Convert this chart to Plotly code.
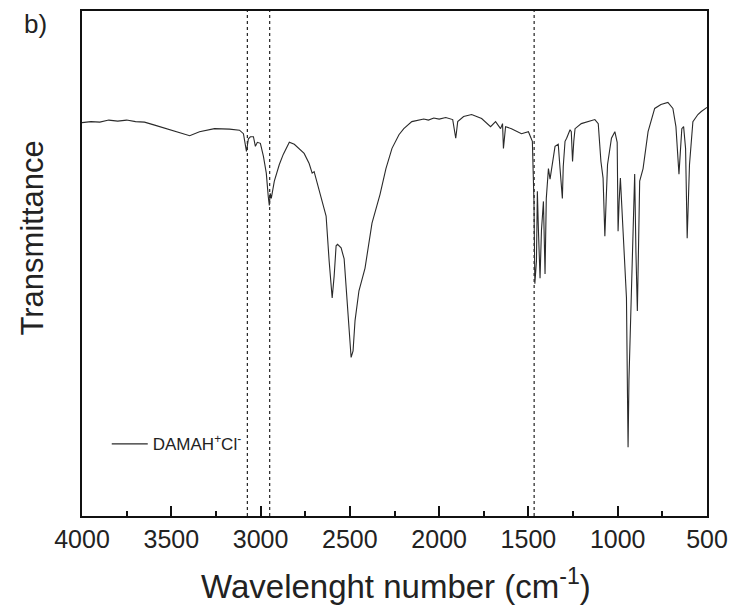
import plotly.graph_objects as go

# IR spectrum of DAMAH+Cl-
wavenumber = [4000, 3950, 3900, 3850, 3800, 3750, 3700, 3650, 3593, 3509, 3453, 3397, 3342, 3258,
               3174, 3118, 3096, 3079, 3068, 3057, 3040, 3029, 3018, 3001, 2984, 2968, 2957, 2951,
               2946, 2940, 2923, 2895, 2873, 2839, 2811, 2756, 2728, 2711, 2700, 2689, 2672, 2650,
               2633, 2616, 2599, 2588, 2577, 2569, 2549, 2532, 2516, 2504, 2493, 2482, 2471, 2449,
               2415, 2376, 2365, 2331, 2298, 2264, 2225, 2198, 2153, 2120, 2086, 2060, 2030, 2000,
               1963, 1924, 1907, 1896, 1863, 1818, 1762, 1712, 1684, 1656, 1645, 1640, 1628, 1595,
               1539, 1500, 1478, 1469, 1464, 1455, 1450, 1444, 1435, 1427, 1416, 1407, 1400, 1388,
               1379, 1351, 1333, 1323, 1310, 1305, 1295, 1286, 1267, 1260, 1253, 1246, 1239, 1204,
               1128, 1109, 1094, 1082, 1072, 1065, 1057, 1035, 1016, 1003, 998, 992, 985, 970,
               951, 945, 942, 937, 929, 924, 914, 905, 898, 890, 884, 877, 858, 830,
               793, 758, 719, 691, 674, 667, 657, 649, 641, 631, 620, 611, 604, 598,
               579, 551, 532, 500]

transmittance = [77.9, 78.1, 78.0, 78.4, 78.2, 78.4, 78.1, 78.0, 77.4, 76.5, 75.9, 75.3, 76.1, 76.7,
                 76.6, 76.4, 75.7, 72.2, 74.7, 75.1, 75.1, 73.2, 74.0, 73.8, 71.2, 67.9, 63.3, 61.5,
                 63.9, 62.9, 66.3, 69.6, 71.6, 74.0, 73.6, 71.8, 69.8, 67.9, 68.2, 66.7, 64.3, 61.3,
                 59.4, 50.5, 43.2, 47.5, 53.5, 53.8, 53.1, 50.9, 42.6, 35.7, 31.4, 32.7, 38.7, 44.6,
                 49.1, 58.0, 59.4, 63.7, 68.8, 72.8, 75.5, 76.7, 78.1, 78.3, 78.6, 78.4, 78.8, 78.6,
                 78.9, 78.5, 74.8, 78.1, 79.1, 79.5, 78.7, 77.1, 78.1, 76.7, 77.7, 72.8, 77.1, 76.7,
                 75.7, 76.1, 74.2, 62.3, 46.0, 50.5, 64.3, 56.6, 47.1, 56.6, 62.3, 47.9, 62.9, 68.8,
                 66.7, 73.2, 73.6, 68.8, 62.9, 69.2, 74.2, 74.8, 76.5, 76.1, 70.2, 74.2, 76.7, 77.7,
                 78.5, 77.7, 70.2, 66.9, 55.4, 62.3, 69.6, 74.8, 76.1, 74.0, 56.4, 62.3, 66.9, 56.4,
                 43.2, 22.9, 13.6, 27.0, 37.3, 46.5, 56.4, 67.7, 52.3, 40.6, 52.3, 66.3, 68.8, 76.1,
                 80.7, 81.5, 81.9, 80.7, 77.1, 72.8, 67.7, 72.2, 76.7, 77.1, 72.8, 55.0, 62.3, 69.6,
                 78.1, 79.5, 80.1, 80.9]

reference_lines = [3074, 2949, 1468]
x_ticks = [4000, 3500, 3000, 2500, 2000, 1500, 1000, 500]
series_name = "DAMAH<sup>+</sup>Cl<sup>-</sup>"

FONT = "Liberation Sans, Arial, sans-serif"

fig = go.Figure()
fig.add_trace(go.Scatter(
    x=wavenumber, y=transmittance, mode="lines", name=series_name,
    line=dict(color="#2a2a2a", width=1.1), showlegend=True,
))

for wn in reference_lines:
    fig.add_shape(type="line", xref="x", yref="paper", x0=wn, x1=wn, y0=0, y1=1,
                  line=dict(color="#222", width=1.2, dash="dot"), layer="below")

fig.update_layout(
    width=737, height=610,
    margin=dict(l=82, r=27, t=9, b=94),
    paper_bgcolor="white", plot_bgcolor="white",
    font=dict(family=FONT, color="#222"),
    showlegend=True,
    legend=dict(x=0.0396, y=0.142, xanchor="left", yanchor="middle",
                bgcolor="rgba(0,0,0,0)", font=dict(size=17, family=FONT, color="#222"),
                itemwidth=36),
    xaxis=dict(
        range=[4000, 500], tickmode="array", tickvals=x_ticks,
        ticktext=[str(t) for t in x_ticks],
        ticks="inside", ticklen=10, tickwidth=2, tickcolor="#111",
        minor=dict(ticks="inside", ticklen=5, tickwidth=2, dtick=250, tickcolor="#111"),
        showline=True, linecolor="#111", linewidth=2, mirror=True,
        showgrid=False, zeroline=False,
        tickfont=dict(size=25, family=FONT, color="#222"),
    ),
    yaxis=dict(
        range=[0, 100], showticklabels=False, ticks="",
        showline=True, linecolor="#111", linewidth=2, mirror=True,
        showgrid=False, zeroline=False,
    ),
    annotations=[
        dict(text="Transmittance", xref="paper", yref="paper", x=-0.0796, y=0.55,
             xanchor="center", yanchor="middle", textangle=-90, showarrow=False,
             font=dict(size=31, family=FONT, color="#222")),
        dict(text="Wavelenght number (cm<sup>-1</sup>)", xref="paper", yref="paper",
             x=0.503, y=-0.134, xanchor="center", yanchor="middle", showarrow=False,
             font=dict(size=33, family=FONT, color="#222")),
        dict(text="b)", xref="paper", yref="paper", x=-0.075, y=0.975,
             xanchor="center", yanchor="middle", showarrow=False,
             font=dict(size=26, family=FONT, color="#222")),
    ],
)

fig.write_html("out.html", config={"displayModeBar": False},
               post_script="document.body.style.margin='0';")
